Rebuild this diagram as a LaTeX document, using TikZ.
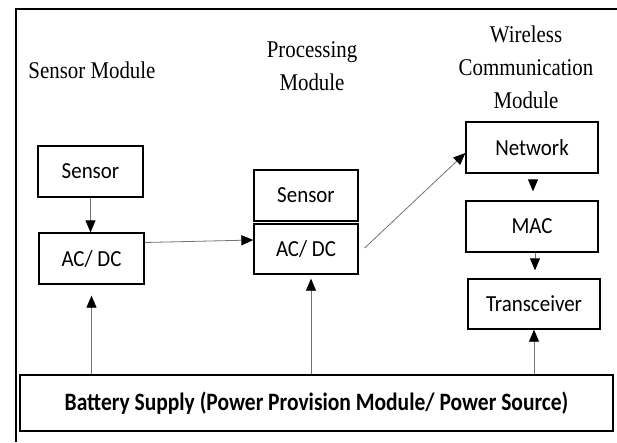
\documentclass[tikz,border=0pt]{standalone}
\usepackage{fontspec}
\setmainfont{Liberation Serif}
\newfontfamily\boxfont{Carlito}
\usetikzlibrary{arrows.meta,calc}
\newcommand\narrowbox[1]{\scalebox{0.91}[1]{#1}}
\newcommand\narrowlbl[1]{\scalebox{0.87}[1]{#1}}
\begin{document}
\begin{tikzpicture}[x=1pt,y=1pt,
  blk/.style={draw=black,line width=1.3pt,rectangle,inner sep=0pt,font=\boxfont\fontsize{23}{26}\selectfont},
  lbl/.style={align=center,font=\fontsize{24}{33}\selectfont},
  conn/.style={draw=black!55,line width=0.8pt,-{Triangle[length=12pt,width=10pt,color=black]}}]
\useasboundingbox (0,0) rectangle (617,-442);
\fill[white] (0,0) rectangle (617,-442);
\draw[line width=1.5pt] (16,-442) -- (16,-9) -- (617,-9);
% labels
\node[lbl] (lsm) at (92,-70) {\narrowlbl{Sensor Module}};
\node[lbl] (lpm) at (312,-66) {\narrowlbl{Processing}\\\narrowlbl{Module}};
\node[lbl] (lwm) at (526,-67) {\narrowlbl{Wireless}\\\narrowlbl{Communication}\\\narrowlbl{Module}};
% boxes
\node[blk,minimum width=105pt,minimum height=51pt] (s1) at (90.5,-171.5) {\narrowbox{Sensor}};
\node[blk,minimum width=105pt,minimum height=51pt] (a1) at (91.5,-258.5) {\narrowbox{AC/ DC}};
\node[blk,minimum width=104pt,minimum height=51pt] (s2) at (306,-195.5) {\narrowbox{Sensor}};
\node[blk,minimum width=104pt,minimum height=50pt] (a2) at (306,-249) {\narrowbox{AC/ DC}};
\node[blk,minimum width=132pt,minimum height=51pt] (net) at (532,-147.5) {\narrowbox{Network}};
\node[blk,minimum width=132pt,minimum height=51pt] (mac) at (532,-226.5) {\narrowbox{MAC}};
\node[blk,minimum width=132pt,minimum height=50pt] (trx) at (534,-304) {\narrowbox{Transceiver}};
\node[blk,minimum width=593pt,minimum height=56pt,font=\boxfont\bfseries\fontsize{25}{28}\selectfont] (bat) at (316.5,-403) {\scalebox{0.86}[1]{Battery Supply (Power Provision Module/ Power Source)}};
% connectors
\draw[conn] (s1.south) -- (s1.south |- a1.north);
\draw[conn] ([yshift=16pt]a1.east) -- ([yshift=9pt]a2.west);
\draw[conn] ([xshift=6pt,yshift=1pt]a2.east) -- ([yshift=-5.5pt]net.west);
\draw[conn,shorten <=7pt,shorten >=9pt] ([xshift=1pt]net.south) -- ([xshift=1pt]mac.south |- mac.north);
\draw[conn,shorten >=8pt] ([xshift=3pt]mac.south) -- ([xshift=3pt]mac.south |- trx.north);
\draw[conn,shorten >=11pt] (a1.south |- bat.north) -- (a1.south);
\draw[conn,shorten >=4pt] ([xshift=5pt]a2.south |- bat.north) -- ([xshift=5pt]a2.south);
\draw[conn] (trx.south |- bat.north) -- (trx.south);
\end{tikzpicture}
\end{document}
